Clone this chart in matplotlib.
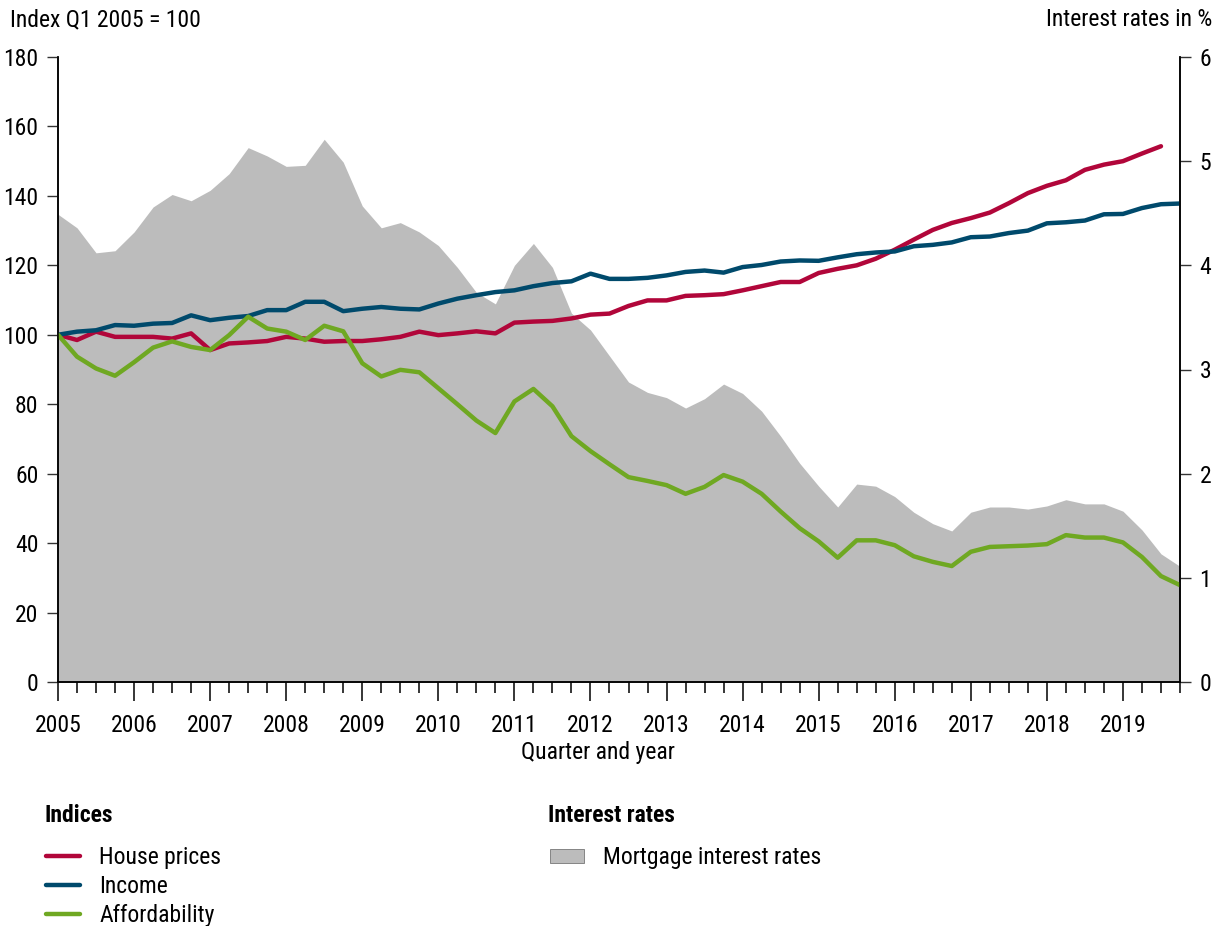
import numpy as np
import matplotlib
matplotlib.use('Agg')
import matplotlib.pyplot as plt
from matplotlib.ticker import FixedLocator, NullFormatter

plt.rcParams['font.family'] = ['Roboto Condensed', 'DejaVu Sans']
plt.rcParams['font.stretch'] = 'condensed'

# quarters 2005 Q1 .. 2019 Q4
years = list(range(2005, 2020))

house_prices = [100, 98.5, 100.9, 99.4, 99.4, 99.4, 98.9, 100.4, 95.6, 97.5,
                97.8, 98.2, 99.4, 98.9, 98.0, 98.2, 98.2, 98.7, 99.4, 100.9,
                99.9, 100.4, 101.0, 100.4, 103.5, 103.8, 104.0, 104.7, 105.8, 106.1,
                108.3, 109.9, 109.9, 111.2, 111.4, 111.7, 112.8, 114.0, 115.2, 115.2,
                117.8, 119.0, 120.0, 121.9, 124.5, 127.4, 130.2, 132.2, 133.6, 135.2,
                137.9, 140.8, 142.9, 144.5, 147.5, 149.0, 150.0, 152.2, 154.3, np.nan]

income = [100, 100.9, 101.3, 102.8, 102.6, 103.2, 103.4, 105.6, 104.2, 104.9,
          105.4, 107.1, 107.1, 109.5, 109.5, 106.8, 107.5, 108.0, 107.5, 107.3,
          109.0, 110.4, 111.4, 112.3, 112.8, 114.0, 114.9, 115.4, 117.6, 116.1,
          116.1, 116.4, 117.1, 118.1, 118.5, 117.9, 119.5, 120.1, 121.1, 121.4,
          121.3, 122.3, 123.2, 123.7, 124.0, 125.5, 125.9, 126.6, 128.1, 128.3,
          129.3, 130.0, 132.1, 132.4, 132.9, 134.7, 134.8, 136.5, 137.6, 137.8]

affordability = [100, 93.7, 90.3, 88.2, 92.1, 96.3, 98.1, 96.5, 95.6, 99.9,
                 105.2, 101.8, 100.9, 98.5, 102.6, 101.0, 91.8, 88.0, 89.9, 89.2,
                 84.6, 80.0, 75.3, 71.7, 80.8, 84.4, 79.4, 70.8, 66.5, 62.7,
                 59.0, 57.9, 56.7, 54.2, 56.2, 59.6, 57.7, 54.2, 49.1, 44.3,
                 40.5, 35.8, 40.8, 40.8, 39.4, 36.2, 34.6, 33.4, 37.5, 38.9,
                 39.1, 39.3, 39.7, 42.3, 41.6, 41.6, 40.2, 36.0, 30.5, 27.9]

mortgage_rates = [4.49, 4.36, 4.12, 4.14, 4.32, 4.56, 4.68, 4.62, 4.72, 4.88,
                  5.13, 5.05, 4.95, 4.96, 5.21, 4.99, 4.57, 4.36, 4.41, 4.32,
                  4.19, 3.98, 3.74, 3.63, 4.00, 4.21, 3.98, 3.54, 3.38, 3.13,
                  2.88, 2.78, 2.73, 2.63, 2.72, 2.86, 2.77, 2.60, 2.36, 2.10,
                  1.88, 1.68, 1.90, 1.88, 1.78, 1.63, 1.52, 1.45, 1.63, 1.68,
                  1.68, 1.66, 1.69, 1.75, 1.71, 1.71, 1.64, 1.46, 1.23, 1.11]

RED = '#b1063a'
BLUE = '#004a6c'
GREEN = '#6fa822'
GRAY = '#bcbcbc'
FS = 17

x = np.arange(len(income))

fig = plt.figure(figsize=(12.18, 9.26), dpi=100)
ax2 = fig.add_axes([58/1218, 1 - 682/926, (1180 - 58)/1218, (682 - 57)/926])
ax = ax2.twinx()
# grey area on the right axis, index lines on top
ax2.fill_between(x, mortgage_rates, 0, color=GRAY, lw=0, label='Mortgage interest rates')
ax2.yaxis.tick_right()
ax.yaxis.tick_left()

l1, = ax.plot(x, house_prices, color=RED, lw=3.2, solid_capstyle='round', label='House prices')
l2, = ax.plot(x, income, color=BLUE, lw=3.2, solid_capstyle='round', label='Income')
l3, = ax.plot(x, affordability, color=GREEN, lw=3.2, solid_capstyle='round', label='Affordability')

ax.set_xlim(0, 59)
ax2.set_xlim(0, 59)
ax.set_ylim(0, 180)
ax2.set_ylim(0, 6)
ax.set_yticks(range(0, 181, 20))
ax2.set_yticks(range(0, 7))

for a in (ax, ax2):
    a.spines['top'].set_visible(False)
    for s in ('left', 'right', 'bottom'):
        a.spines[s].set_linewidth(1.1)
        a.spines[s].set_color('black')
    a.patch.set_visible(False)

ax.tick_params(axis='y', direction='out', length=8, width=1, pad=6, labelsize=FS, colors='#333333', labelcolor='black')
ax2.tick_params(axis='y', direction='out', length=8, width=1, pad=6, labelsize=FS, colors='#333333', labelcolor='black')

ax2.xaxis.set_major_locator(FixedLocator(list(range(0, 60, 4))))
ax2.xaxis.set_minor_locator(FixedLocator(list(range(0, 60))))
ax2.set_xticklabels([str(y) for y in years])
ax2.xaxis.set_minor_formatter(NullFormatter())
ax2.tick_params(axis='x', which='major', direction='out', length=14, width=1.1, pad=9, labelsize=FS)
ax2.tick_params(axis='x', which='minor', direction='out', length=8, width=1.1)
ax.tick_params(axis='x', which='both', bottom=False, labelbottom=False)

fig.text(10/1218, 1 - 20/926, 'Index Q1 2005 = 100', fontsize=FS, ha='left', va='center')
fig.text(1212/1218, 1 - 20/926, 'Interest rates in %', fontsize=FS, ha='right', va='center')
fig.text(598/1218, 1 - 752/926, 'Quarter and year', fontsize=FS, ha='center', va='center')

fig.text(44/1218, 1 - 815/926, 'Indices', fontsize=FS, weight='bold', ha='left', va='center')
fig.text(548/1218, 1 - 816/926, 'Interest rates', fontsize=FS, weight='bold', ha='left', va='center')
leg1 = fig.legend(handles=[l1, l2, l3], loc='upper left', bbox_to_anchor=(25/1218, 1 - 825/926),
                  frameon=False, fontsize=FS, handlelength=1.45, handletextpad=0.8, labelspacing=0.25)
h_area, lab_area = ax2.get_legend_handles_labels()
leg2 = fig.legend(handles=h_area, labels=lab_area, loc='upper left', bbox_to_anchor=(529/1218, 1 - 825/926),
                  frameon=False, fontsize=FS, handlelength=1.45, handleheight=0.5, handletextpad=0.8)
for p in leg2.get_patches():
    p.set_edgecolor('#777777')
    p.set_linewidth(0.6)

fig.savefig('out.png', dpi=100)
